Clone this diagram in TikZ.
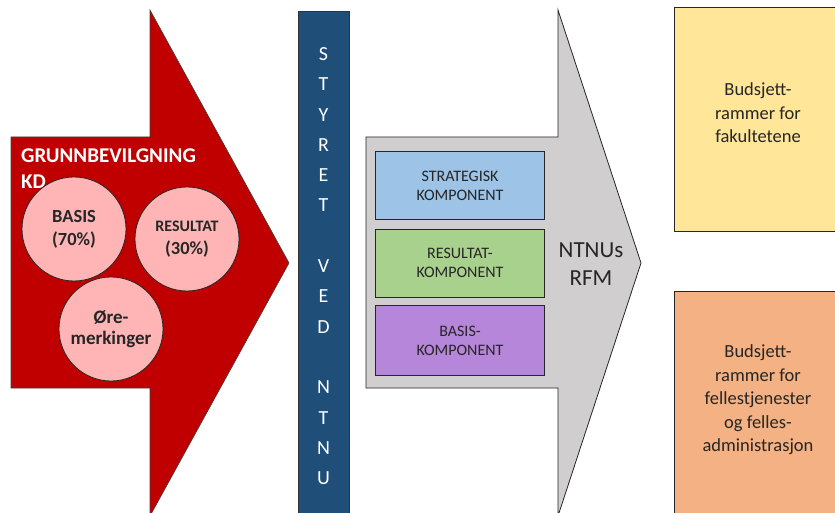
\documentclass[tikz,border=0pt]{standalone}
\usepackage{fontspec}
\setmainfont{Carlito}
\usepackage{xcolor}
\usetikzlibrary{positioning}

\definecolor{kdred}{HTML}{C00000}
\definecolor{pinkfill}{HTML}{FFB5B5}
\definecolor{styreblue}{HTML}{1F4E79}
\definecolor{rfmgray}{HTML}{D0CECE}
\definecolor{stratblue}{HTML}{9DC3E6}
\definecolor{resgreen}{HTML}{A9D18E}
\definecolor{baspurple}{HTML}{B686DA}
\definecolor{fakyellow}{HTML}{FFE699}
\definecolor{adminorange}{HTML}{F4B183}

\tikzset{
  pinkcirc/.style={circle, draw=black!85, line width=0.8pt, fill=pinkfill, minimum size=104pt,
    inner sep=0pt, align=center, text=black!85, font=\bfseries\fontsize{18.5}{23}\selectfont},
  kompbox/.style={draw=black!85, line width=1pt, minimum width=169pt, minimum height=68pt,
    inner sep=0pt, align=center, text=black!85, font=\fontsize{16}{19}\selectfont},
  rammebox/.style={draw=black!85, line width=0.8pt, minimum width=168pt, inner sep=0pt},
  rammetext/.style={align=center, text=black!85, font=\fontsize{18.5}{23.5}\selectfont},
  barletter/.style={text=white, font=\fontsize{20}{20}\selectfont, inner sep=0pt}
}

\begin{document}
\begin{tikzpicture}[x=1pt, y=-1pt]
  \useasboundingbox (0,0) rectangle (835,513);
  \clip (0,0) rectangle (835,513);

  % grunnbevilgning arrow
  \draw[fill=kdred, draw=black!75, line width=0.6pt]
    (11,137) -- (150,137) -- (150,10) -- (289,263) -- (150,516) -- (150,388) -- (11,388) -- cycle;
  \node[anchor=north west, inner sep=0pt, align=left, text=white,
    font=\bfseries\fontsize{21}{26}\selectfont] (kd) at (21,149) {GRUNNBEVILGNING\\KD};
  \node[pinkcirc] (basis) at (74,229) {BASIS\\(70\%)};
  \node[pinkcirc] (resultat) at (187,239) {{\fontsize{16}{23}\selectfont RESULTAT}\\(30\%)};
  \node[pinkcirc, font=\bfseries\fontsize{19}{21}\selectfont] (ore) at (111,329) {Øre-\\merkinger};

  % styret
  \fill[styreblue] (298,11) rectangle (349,520);
  \draw[black!80, line width=0.6pt] (298,520) -- (298,11) -- (349,11) -- (349,520);
  \foreach \l [count=\i from 0] in {S,T,Y,R,E,T,{},V,E,D,{},N,T,N,U}
    \node[barletter] (styre\i) at (323.5,{54+30.3*\i}) {\l};

  % rfm arrow
  \draw[fill=rfmgray, draw=black!85, line width=0.8pt]
    (366,137) -- (558,137) -- (558,10) -- (641,263) -- (558,516) -- (558,388) -- (366,388) -- cycle;
  \node[kompbox, fill=stratblue, anchor=north west] (strat) at (375,151) {STRATEGISK\\KOMPONENT};
  \node[kompbox, fill=resgreen, below=8.5pt of strat] (res) {RESULTAT-\\KOMPONENT};
  \node[kompbox, fill=baspurple, minimum height=70pt, below=7.5pt of res] (bas) {BASIS-\\KOMPONENT};
  \node[align=center, text=black!85, font=\fontsize{23}{28}\selectfont] (rfm) at (591,264) {NTNUs\\RFM};

  % budsjettrammer
  \node[rammebox, fill=fakyellow, minimum height=224pt, anchor=north west] (fak) at (674,7) {};
  \node[rammetext] (faktext) at (758,113) {Budsjett-\\rammer for\\fakultetene};
  \node[rammebox, fill=adminorange, minimum height=240pt, anchor=north west] (adm) at (674,291) {};
  \node[rammetext] (admtext) at (758,400) {Budsjett-\\rammer for\\fellestjenester\\og felles-\\administrasjon};
\end{tikzpicture}
\end{document}
